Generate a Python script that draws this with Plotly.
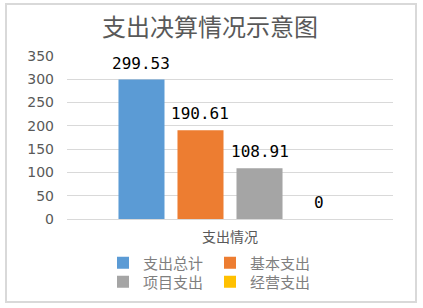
import plotly.graph_objects as go

category = ["支出情况"]
series_names = ["支出总计", "基本支出", "项目支出", "经营支出"]
series_values = [299.53, 190.61, 108.91, 0]
series_colors = ["#5B9BD5", "#ED7D31", "#A5A5A5", "#FFC000"]
y_ticks = [0, 50, 100, 150, 200, 250, 300, 350]

W, H = 423, 308
ml, mr, mt, mb = 67, 30, 56, 89
pw, ph = W - ml - mr, H - mt - mb

fig = go.Figure()
for i, (name, val, col) in enumerate(zip(series_names, series_values, series_colors)):
    fig.add_trace(go.Bar(
        x=category, y=[val], name=name, marker=dict(color=col, line=dict(width=0)),
        legend="legend" if i < 2 else "legend2",
        hoverinfo="skip",
    ))

# data labels
slot = pw * (1 - 0.276) / 4
for i, val in enumerate(series_values):
    fig.add_annotation(
        x=category[0], y=val, xref="x", yref="y",
        text=f"{val:g}", showarrow=False, yanchor="bottom",
        xshift=(i - 1.5) * slot, yshift=5,
        font=dict(family="DejaVu Sans Mono", size=16, color="#000000"),
    )

# outer chart border
def px_to_paper_x(px):
    return (px - ml) / pw

def px_to_paper_y(py):
    return (H - mb - py) / ph

fig.add_shape(type="rect", xref="paper", yref="paper",
              x0=px_to_paper_x(6), x1=px_to_paper_x(416),
              y0=px_to_paper_y(302), y1=px_to_paper_y(4),
              line=dict(color="#D9D9D9", width=2), fillcolor="rgba(0,0,0,0)", layer="below")

legend_common = dict(
    orientation="h", xref="container", yref="container",
    xanchor="left", yanchor="middle", entrywidth=62, entrywidthmode="pixels",
    font=dict(family="Noto Sans CJK SC", size=15, color="#7F7F7F"),
    bgcolor="rgba(0,0,0,0)", itemwidth=30, traceorder="normal",
)

fig.update_layout(
    width=W, height=H,
    margin=dict(l=ml, r=mr, t=mt, b=mb, autoexpand=False),
    paper_bgcolor="white", plot_bgcolor="white",
    font=dict(family="Noto Sans CJK SC", color="#595959"),
    title=dict(text="支出决算情况示意图", x=210 / W, xref="container", xanchor="center",
               y=1 - 28 / H, yref="container", yanchor="middle",
               font=dict(family="Noto Sans CJK SC", size=24, color="#595959")),
    barmode="group", bargap=0.276, bargroupgap=0.22,
    showlegend=True,
    legend=dict(x=103 / W, y=1 - 263 / H, **legend_common),
    legend2=dict(x=103 / W, y=1 - 282 / H, **legend_common),
    xaxis=dict(showgrid=False, showline=False, zeroline=False, ticks="",
               ticklabelstandoff=8, automargin=False,
               tickfont=dict(family="Noto Sans CJK SC", size=14, color="#595959")),
    yaxis=dict(range=[0, 350], tickvals=y_ticks, showgrid=True, gridcolor="#D9D9D9",
               gridwidth=1, zeroline=True, zerolinecolor="#D9D9D9", zerolinewidth=1,
               showline=False, ticks="", ticklabelstandoff=12, automargin=False,
               tickfont=dict(family="DejaVu Sans", size=14, color="#595959")),
)

fig.write_html("out.html")
